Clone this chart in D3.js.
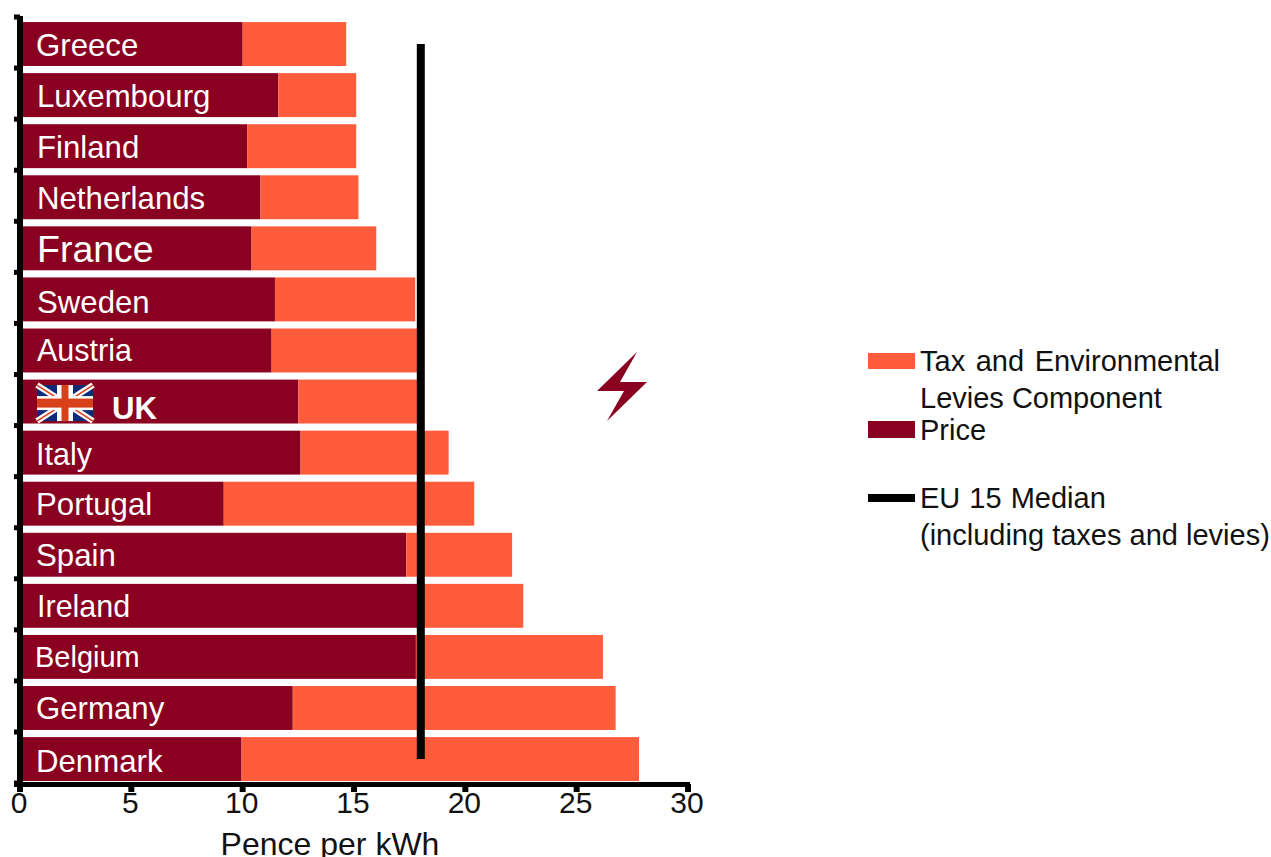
<!DOCTYPE html>
<html><head><meta charset="utf-8">
<style>html,body{margin:0;padding:0;background:#fff}svg{display:block}text{font-family:"Liberation Sans",Arial,sans-serif}</style>
<script src="https://cdn.jsdelivr.net/npm/d3@7"></script></head><body>
<svg id="c" width="1271" height="857"></svg>
<script>
const countries=["Greece","Luxembourg","Finland","Netherlands","France","Sweden","Austria","UK","Italy","Portugal","Spain","Ireland","Belgium","Germany","Denmark"];
const price=[10.0,11.6,10.2,10.8,10.4,11.45,11.3,12.5,12.6,9.15,17.35,17.9,17.78,12.25,9.95];
const tax=[4.65,3.5,4.9,4.4,5.6,6.3,6.6,5.5,6.65,11.25,4.75,4.7,8.4,14.5,17.85];
const xTicks=[0,5,10,15,20,25,30];
const median=18;
const colors={price:"#8a0020",tax:"#ff5c3c"};
const labelFont={France:37.5,Belgium:29,Italy:30.5,Ireland:30.5,Austria:30.5};
const labelDx={Greece:-1,Belgium:-2,Germany:-1,Denmark:-1,Spain:-1,Portugal:-1,Italy:-1};
const labelDy={Austria:1,Sweden:4,Greece:2,Luxembourg:1.5,Finland:1.5,Netherlands:1.5,France:1.5,UK:0.5,Italy:2,Portugal:1.5,Spain:1.5,Ireland:1.5,Germany:1.5,Denmark:2.5,Belgium:0.5};

const svg=d3.select("#c");
const x=d3.scaleLinear().domain([0,30]).range([20,688]);
const y=d3.scaleBand().domain(countries).range([18.5,784.6]).paddingInner(0.14).paddingOuter(0.07);
const rows=countries.map((c,i)=>({c,price:price[i],tax:tax[i]}));
const stack=d3.stack().keys(["price","tax"])(rows);
svg.append("g").selectAll("g").data(stack).join("g").attr("fill",d=>colors[d.key])
 .selectAll("rect").data(d=>d).join("rect")
 .attr("x",d=>x(d[0])).attr("width",d=>x(d[1])-x(d[0]))
 .attr("y",d=>y(d.data.c)).attr("height",y.bandwidth());

// category labels
const lab=svg.append("g").attr("fill","#fff");
lab.selectAll("text").data(countries).join("text")
 .attr("x",d=>d==="UK"?112:37+(labelDx[d]||0))
 .attr("y",d=>y(d)+y.bandwidth()/2+(d==="France"?12:10)+(labelDy[d]||0)+(d==="UK"?7:0))
 .attr("font-size",d=>labelFont[d]||31.2)
 .attr("font-weight",d=>d==="UK"?"bold":null)
 .text(d=>d);

// flag
const fx=37,fw=56,fh=36,fy=y("UK")+5.5;
const f=svg.append("g").attr("transform",`translate(${fx},${fy})`);
f.append("rect").attr("width",fw).attr("height",fh).attr("fill","#0f2a78");
[[0,0,fw,fh],[0,fh,fw,0]].forEach(([a,b,c,d])=>{
 f.append("line").attr("x1",a).attr("y1",b).attr("x2",c).attr("y2",d).attr("stroke","#fff").attr("stroke-width",6);
 f.append("line").attr("x1",a).attr("y1",b).attr("x2",c).attr("y2",d).attr("stroke","#d8401a").attr("stroke-width",1.6);
});
f.append("rect").attr("x",fw/2-8).attr("width",16).attr("height",fh).attr("fill","#fff");
f.append("rect").attr("y",fh/2-7).attr("width",fw).attr("height",14).attr("fill","#fff");
f.append("rect").attr("x",fw/2-3.5).attr("width",7).attr("height",fh).attr("fill","#d8401a");
f.append("rect").attr("y",fh/2-4.5).attr("width",fw).attr("height",9).attr("fill","#d8401a");

// median
svg.append("line").attr("x1",x(median)).attr("x2",x(median)).attr("y1",44).attr("y2",759).attr("stroke","#000").attr("stroke-width",8);

// axes
const ax=svg.append("g");
ax.append("line").attr("x1",x(0)).attr("x2",x(0)).attr("y1",16).attr("y2",787).attr("stroke","#000").attr("stroke-width",6);
ax.append("line").attr("x1",14).attr("x2",x(30)+2).attr("y1",784.5).attr("y2",784.5).attr("stroke","#000").attr("stroke-width",5);
const yTickPos=d3.range(countries.length+1).map(i=>17+i*51.07);
ax.selectAll(".yt").data(yTickPos).join("line").attr("class","yt")
 .attr("x1",14).attr("x2",20).attr("y1",d=>d).attr("y2",d=>d).attr("stroke","#000").attr("stroke-width",5);
ax.selectAll(".xt").data(xTicks).join("line").attr("class","xt")
 .attr("x1",d=>x(d)).attr("x2",d=>x(d)).attr("y1",784).attr("y2",792).attr("stroke","#000").attr("stroke-width",6);
ax.selectAll(".xl").data(xTicks).join("text").attr("class","xl")
 .attr("x",d=>x(d)-1).attr("y",813).attr("text-anchor","middle").attr("font-size",30).attr("fill","#111").text(d=>d);
svg.append("text").attr("x",330).attr("y",855).attr("text-anchor","middle").attr("font-size",32).attr("fill","#111").text("Pence per kWh");

// bolt
svg.append("path").attr("fill",colors.price)
 .attr("d","M637 352 L597 391 L624 391 L607 421 L647 382 L620 382 Z");

// legend
const leg=svg.append("g").attr("font-size",29).attr("fill","#111");
leg.append("rect").attr("x",868).attr("y",353).attr("width",47).attr("height",16).attr("fill",colors.tax);
leg.append("rect").attr("x",868).attr("y",421).attr("width",47).attr("height",17).attr("fill",colors.price);
leg.append("rect").attr("x",868).attr("y",494).attr("width",47).attr("height",8).attr("fill","#000");
[["Tax and Environmental",371,2.5],["Levies Component",408,0],["Price",440,0],["EU 15 Median",508,1],["(including taxes and levies)",545,0]]
 .forEach(([t,yy,ws])=>leg.append("text").attr("x",920).attr("y",yy).attr("word-spacing",ws).text(t));
</script></body></html>
